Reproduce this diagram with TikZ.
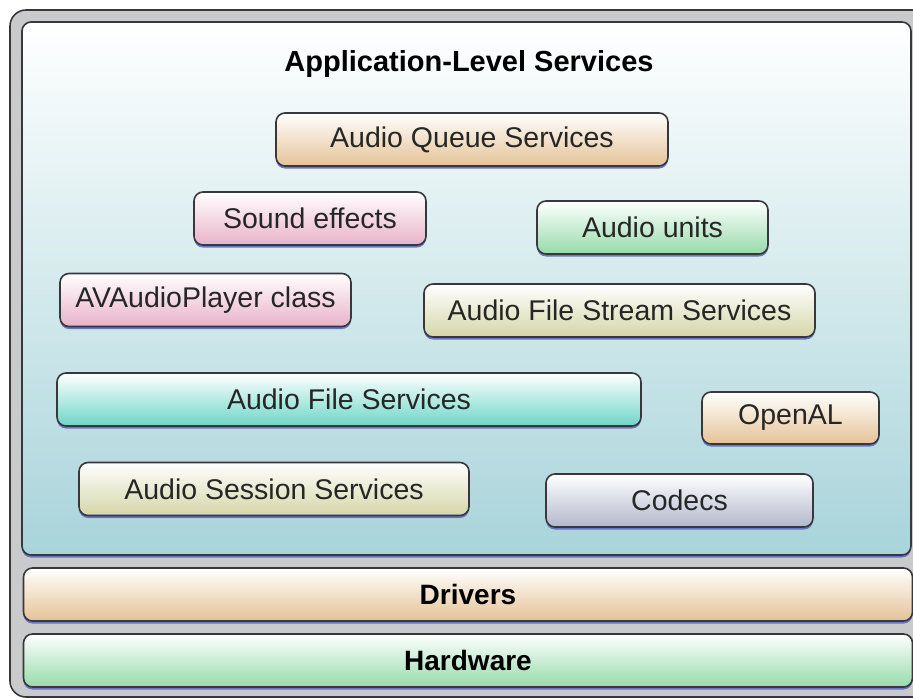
\documentclass[tikz,border=0pt]{standalone}
\usepackage{fontspec}
\setmainfont{Liberation Sans}
\usetikzlibrary{shadows}
\definecolor{frameGray}{RGB}{200,202,203}
\definecolor{edgeDark}{RGB}{55,55,60}
\definecolor{shadowBlue}{RGB}{95,105,190}
\definecolor{appBlue}{RGB}{168,212,218}
\definecolor{tanC}{RGB}{228,194,150}
\definecolor{pinkC}{RGB}{232,178,200}
\definecolor{greenC}{RGB}{150,218,170}
\definecolor{khakiC}{RGB}{212,214,168}
\definecolor{tealC}{RGB}{110,214,200}
\definecolor{codecC}{RGB}{178,184,204}
\tikzset{
  layer/.style={draw=edgeDark, line width=1.6pt, rounded corners=9pt,
    drop shadow={shadow xshift=0pt, shadow yshift=-2.5pt, fill=shadowBlue, opacity=0.9}},
  svc/.style={layer, minimum height=53pt, font=\fontsize{28.5}{31}\selectfont, text=black!85, inner sep=0pt},
  band/.style={layer, font=\bfseries\fontsize{28}{31}\selectfont, inner sep=0pt, minimum width=889pt, minimum height=53pt},
  tanfill/.style={top color=white, bottom color=tanC},
  pinkfill/.style={top color=white, bottom color=pinkC},
  greenfill/.style={top color=white, bottom color=greenC},
  khakifill/.style={top color=white, bottom color=khakiC},
  tealfill/.style={top color=white, bottom color=tealC},
  codecfill/.style={top color=white, bottom color=codecC},
}
\begin{document}
\begin{tikzpicture}[x=1pt, y=-1pt]
\useasboundingbox (0,0) rectangle (913,699);
\begin{scope}
\clip (0,0) rectangle (913,699);
% outer frame
\draw[fill=frameGray, draw=edgeDark, line width=1.6pt, rounded corners=16pt] (10,10) rectangle (940,697);
% application-level area
\node[layer, top color=white, bottom color=appBlue, minimum width=889pt, minimum height=533pt, inner sep=0pt] (app) at (466.5,288.5) {};
\node[font=\bfseries\fontsize{29}{32}\selectfont] (title) at (469,64) {Application-Level Services};

% services
\node[svc, tanfill, minimum width=392pt] (aqs) at (472,139.5) {Audio Queue Services};
\node[svc, pinkfill, minimum width=232pt] (sfx) at (310,218.5) {Sound effects};
\node[svc, greenfill, minimum width=231pt] (au) at (652.5,227.5) {Audio units};
\node[svc, pinkfill, minimum width=291pt] (avp) at (205.5,300) {AVAudioPlayer class};
\node[svc, khakifill, minimum width=391pt] (afss) at (619.5,310.5) {Audio File Stream Services};
\node[svc, tealfill, minimum width=584pt] (afs) at (349,399.5) {Audio File Services};
\node[svc, tanfill, minimum width=177pt, minimum height=52pt] (oal) at (790.5,418) {OpenAL};
\node[svc, khakifill, minimum width=390pt] (ass) at (274,489) {Audio Session Services};
\node[svc, codecfill, minimum width=267pt] (cod) at (679.5,500.5) {Codecs};

% lower layers
\node[band, tanfill] (drv) at (468,594.5) {Drivers};
\node[band, greenfill] (hw) at (468,660.5) {Hardware};
\end{scope}
\end{tikzpicture}
\end{document}
